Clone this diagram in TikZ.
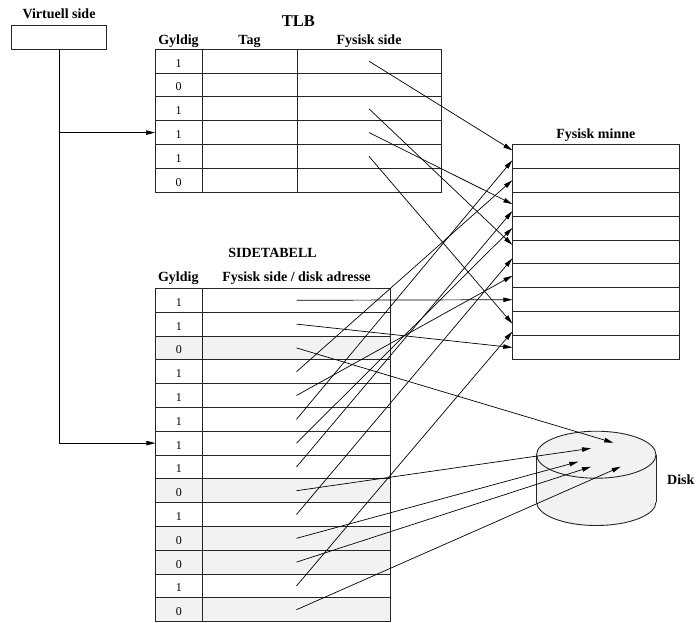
\documentclass[tikz,border=0pt]{standalone}
\usepackage{fontspec}
\setmainfont{Liberation Serif}
\usetikzlibrary{arrows.meta,calc}

\definecolor{rowgray}{gray}{0.95}

\begin{document}
\begin{tikzpicture}[
  x=1pt, y=-1pt,
  >={Triangle[length=9pt,width=4.5pt]},
  every node/.style={inner sep=0pt, outer sep=0pt},
  head/.style={font=\fontsize{14}{16}\selectfont\bfseries, anchor=base},
  cell/.style={draw=black!85, line width=0.9pt, minimum height=23.8pt,
               text height=12pt, font=\fontsize{12}{14}\selectfont},
  gcell/.style={cell, minimum width=47pt},
  tcell/.style={cell, minimum width=95pt},
  fcell/.style={cell, minimum width=144pt},
  scell/.style={cell, minimum width=188.4pt},
  mcell/.style={cell, minimum width=167pt, minimum height=23.9pt},
  absent/.style={fill=rowgray},
  wire/.style={line width=0.7pt},
  link/.style={->, line width=0.7pt},
]
  \useasboundingbox (0,0) rectangle (696,622);

  % Virtual page
  \node[head] (vs-label) at (59,18.5) {Virtuell side};
  \node[cell, minimum width=95.7pt, minimum height=24.3pt] (vs) at (58.9,37.2) {};

  % TLB
  \node[head, font=\fontsize{16.5}{18}\selectfont\bfseries] (tlb) at (298.3,26) {TLB};
  \node[head] (tlb-h1) at (178.5,44.3) {Gyldig};
  \node[head] (tlb-h2) at (249.5,44.3) {Tag};
  \node[head] (tlb-h3) at (369,44.3) {Fysisk side};
  \node[gcell] (tg1) at (178.5,61.2) {1};  \node[tcell] (tt1) at (249.5,61.2) {};  \node[fcell] (tf1) at (369,61.2) {};
  \node[gcell] (tg2) at (178.5,85.0) {0};  \node[tcell] (tt2) at (249.5,85.0) {};  \node[fcell] (tf2) at (369,85.0) {};
  \node[gcell] (tg3) at (178.5,108.8) {1}; \node[tcell] (tt3) at (249.5,108.8) {}; \node[fcell] (tf3) at (369,108.8) {};
  \node[gcell] (tg4) at (178.5,132.6) {1}; \node[tcell] (tt4) at (249.5,132.6) {}; \node[fcell] (tf4) at (369,132.6) {};
  \node[gcell] (tg5) at (178.5,156.4) {1}; \node[tcell] (tt5) at (249.5,156.4) {}; \node[fcell] (tf5) at (369,156.4) {};
  \node[gcell] (tg6) at (178.5,180.2) {0}; \node[tcell] (tt6) at (249.5,180.2) {}; \node[fcell] (tf6) at (369,180.2) {};

  % Physical memory
  \node[head] (fm) at (595.8,138.3) {Fysisk minne};
  \node[mcell] (m1) at (595.8,156.3) {};
  \node[mcell] (m2) at (595.8,180.2) {};
  \node[mcell] (m3) at (595.8,204.1) {};
  \node[mcell] (m4) at (595.8,228.0) {};
  \node[mcell] (m5) at (595.8,251.9) {};
  \node[mcell] (m6) at (595.8,275.8) {};
  \node[mcell] (m7) at (595.8,299.7) {};
  \node[mcell] (m8) at (595.8,323.6) {};
  \node[mcell] (m9) at (595.8,347.5) {};

  % Page table
  \node[head] (st) at (272.5,257.3) {SIDETABELL};
  \node[head] (st-h1) at (178.3,281.7) {Gyldig};
  \node[head] (st-h2) at (296.5,281.7) {Fysisk side / disk adresse};
  \node[gcell] (sg1) at (178.8,300.3) {1};          \node[scell] (sf1) at (296.5,300.3) {};
  \node[gcell] (sg2) at (178.8,324.1) {1};          \node[scell] (sf2) at (296.5,324.1) {};
  \node[gcell, absent] (sg3) at (178.8,347.9) {0};  \node[scell, absent] (sf3) at (296.5,347.9) {};
  \node[gcell] (sg4) at (178.8,371.7) {1};          \node[scell] (sf4) at (296.5,371.7) {};
  \node[gcell] (sg5) at (178.8,395.5) {1};          \node[scell] (sf5) at (296.5,395.5) {};
  \node[gcell] (sg6) at (178.8,419.3) {1};          \node[scell] (sf6) at (296.5,419.3) {};
  \node[gcell] (sg7) at (178.8,443.1) {1};          \node[scell] (sf7) at (296.5,443.1) {};
  \node[gcell] (sg8) at (178.8,466.9) {1};          \node[scell] (sf8) at (296.5,466.9) {};
  \node[gcell, absent] (sg9) at (178.8,490.7) {0};  \node[scell, absent] (sf9) at (296.5,490.7) {};
  \node[gcell] (sg10) at (178.8,514.5) {1};         \node[scell] (sf10) at (296.5,514.5) {};
  \node[gcell, absent] (sg11) at (178.8,538.3) {0}; \node[scell, absent] (sf11) at (296.5,538.3) {};
  \node[gcell, absent] (sg12) at (178.8,562.1) {0}; \node[scell, absent] (sf12) at (296.5,562.1) {};
  \node[gcell] (sg13) at (178.8,585.9) {1};         \node[scell] (sf13) at (296.5,585.9) {};
  \node[gcell, absent] (sg14) at (178.8,609.7) {0}; \node[scell, absent] (sf14) at (296.5,609.7) {};

  % Disk (drawn directly)
  \coordinate (disk) at (596.3,454.7);
  \filldraw[fill=rowgray, draw=black!85, line width=0.9pt]
    ($(disk)+(0,47.3)$) ellipse [x radius=59.7pt, y radius=23.5pt];
  \fill[rowgray] ($(disk)+(-59.7,0)$) rectangle ($(disk)+(59.7,47.3)$);
  \draw[draw=black!85, line width=0.9pt] ($(disk)+(-59.7,0)$) -- ($(disk)+(-59.7,47.3)$);
  \draw[draw=black!85, line width=0.9pt] ($(disk)+(59.7,0)$) -- ($(disk)+(59.7,47.3)$);
  \filldraw[fill=rowgray, draw=black!85, line width=0.9pt]
    (disk) ellipse [x radius=59.7pt, y radius=23.5pt];
  \node[head] (disk-label) at (680.8,484) {Disk};

  % Virtual page to TLB and page table
  \draw[wire] (vs.south) -- (vs.south |- sg7.west);
  \draw[link] (vs.south |- tg4.west) -- (tg4.west);
  \draw[link] (vs.south |- sg7.west) -- (sg7.west);

  % TLB hits into memory
  \draw[link] (tf1.center) -- ([yshift=6pt]m1.west);
  \draw[link] (tf3.center) -- ([yshift=7pt]m5.west);
  \draw[link] (tf4.center) -- (m3.west);
  \draw[link] (tf5.center) -- (m8.west);

  % Page table entries into memory
  \draw[link] (sf1.center) -- (m7.west);
  \draw[link] (sf2.center) -- (m9.west);
  \draw[link] (sf4.center) -- (m2.west);
  \draw[link] (sf5.center) -- (m6.west);
  \draw[link] (sf6.center) -- ([yshift=-4pt]m1.west);
  \draw[link] (sf7.center) -- (m4.west);
  \draw[link] (sf8.center) -- ([yshift=-7pt]m3.west);
  \draw[link] (sf10.center) -- ([yshift=-6.5pt]m5.west);
  \draw[link] (sf13.center) -- ([yshift=-8pt]m8.west);

  % Page table entries onto disk
  \draw[link] (sf3.center) -- ($(disk)+(17,-12)$);
  \draw[link] (sf9.center) -- ($(disk)+(-5.3,-6.4)$);
  \draw[link] (sf11.center) -- ($(disk)+(-18,7)$);
  \draw[link] (sf12.center) -- ($(disk)+(-5.3,12)$);
  \draw[link] (sf14.center) -- ($(disk)+(24.4,12)$);
\end{tikzpicture}
\end{document}
